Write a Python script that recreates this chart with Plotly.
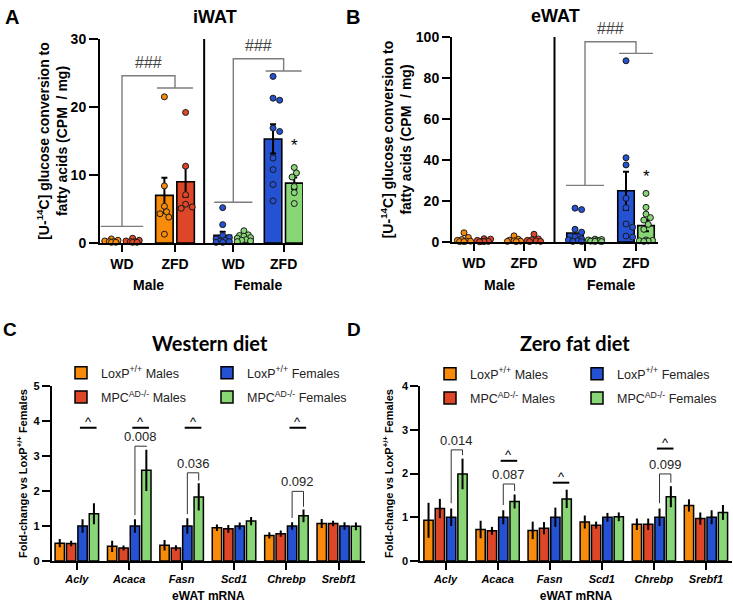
import plotly.graph_objects as go

W, H = 733, 603
OX, OY = 0, 0
SANS = "Liberation Sans, Arial, sans-serif"
HEAD = "Lato, Open Sans, sans-serif"

ORANGE = "#F98B0B"
RED = "#DD4626"
BLUE = "#2551D3"
GREEN = "#88D676"
INK = "black"
GRAY = "#7d7d7d"

# ---------------- Panels A & B data (CPM / mg) ----------------
diet_tick_labels = ["WD", "ZFD", "WD", "ZFD"]
sex_labels = ["Male", "Female"]
group_colors = [ORANGE, RED, ORANGE, RED, BLUE, GREEN, BLUE, GREEN]

iwat_means = [0.3, 0.3, 7.0, 9.0, 1.15, 0.8, 15.3, 8.8]
iwat_sems = [0.08, 0.09, 2.6, 2.2, 0.5, 0.17, 2.15, 0.85]
iwat_m_wd_loxp = [0.6, 0.4, 0.3, 0.2, 0.2, 0.1, 0.1]
iwat_m_wd_mpc = [0.7, 0.4, 0.3, 0.2, 0.2, 0.1, 0.1]
iwat_m_zfd_loxp = [21.5, 8.4, 5.4, 4.6, 4.3, 3.8, 1.3]
iwat_m_zfd_mpc = [19.2, 11.3, 7.1, 5.7, 5.3, 5.1]
iwat_f_wd_loxp = [5.2, 2.7, 1.1, 0.8, 0.6, 0.4, 0.3, 0.2, 0.1, 0.1]
iwat_f_wd_mpc = [1.8, 1.2, 1.1, 1.0, 0.8, 0.7, 0.5, 0.4, 0.3, 0.2]
iwat_f_zfd_loxp = [24.5, 21.3, 21.0, 16.9, 16.4, 12.5, 10.8, 8.6, 6.2]
iwat_f_zfd_mpc = [11.1, 10.3, 9.7, 8.3, 7.4, 5.8]

ewat_means = [1.0, 0.6, 0.9, 1.1, 4.4, 0.7, 25.0, 8.0]
ewat_sems = [0.5, 0.2, 0.4, 0.5, 1.9, 0.15, 9.3, 2.7]
ewat_m_wd_loxp = [4.5, 2.2, 1.2, 0.8, 0.5, 0.4, 0.2, 0.2]
ewat_m_wd_mpc = [1.6, 1.4, 0.8, 0.6, 0.4, 0.3, 0.2, 0.1]
ewat_m_zfd_loxp = [3.0, 1.3, 0.9, 0.6, 0.4, 0.3, 0.2]
ewat_m_zfd_mpc = [3.8, 1.5, 1.1, 0.8, 0.5, 0.3, 0.2]
ewat_f_wd_loxp = [16.5, 15.8, 6.2, 4.8, 2.5, 1.5, 1.0, 0.6, 0.3, 0.2]
ewat_f_wd_mpc = [1.4, 1.2, 1.0, 0.8, 0.6, 0.5, 0.4, 0.3, 0.2]
ewat_f_zfd_loxp = [88.4, 41.1, 37.6, 21.3, 16.7, 8.8, 7.2, 2.9, 2.4]
ewat_f_zfd_mpc = [23.7, 16.9, 13.6, 11.9, 10.7, 8.6, 6.2, 1.0, 0.8, 0.6, 0.5, 0.3]

iwat_points = [iwat_m_wd_loxp, iwat_m_wd_mpc, iwat_m_zfd_loxp, iwat_m_zfd_mpc,
               iwat_f_wd_loxp, iwat_f_wd_mpc, iwat_f_zfd_loxp, iwat_f_zfd_mpc]
ewat_points = [ewat_m_wd_loxp, ewat_m_wd_mpc, ewat_m_zfd_loxp, ewat_m_zfd_mpc,
               ewat_f_wd_loxp, ewat_f_wd_mpc, ewat_f_zfd_loxp, ewat_f_zfd_mpc]

# ---------------- Panels C & D data (fold change) ----------------
genes = ["Acly", "Acaca", "Fasn", "Scd1", "Chrebp", "Srebf1"]
series_names = ["LoxP<sup>+/+</sup> Males", "MPC<sup>AD-/-</sup> Males",
                "LoxP<sup>+/+</sup> Females", "MPC<sup>AD-/-</sup> Females"]
series_colors = [ORANGE, RED, BLUE, GREEN]

wd_loxp_m = [0.51, 0.42, 0.45, 0.95, 0.73, 1.07]
wd_loxp_m_sem = [0.12, 0.16, 0.15, 0.09, 0.09, 0.13]
wd_mpc_m = [0.50, 0.37, 0.37, 0.92, 0.78, 1.07]
wd_mpc_m_sem = [0.08, 0.07, 0.08, 0.11, 0.09, 0.08]
wd_loxp_f = [1.0, 1.0, 1.0, 1.0, 1.0, 1.0]
wd_loxp_f_sem = [0.19, 0.19, 0.22, 0.10, 0.11, 0.11]
wd_mpc_f = [1.35, 2.59, 1.83, 1.14, 1.29, 0.99]
wd_mpc_f_sem = [0.30, 0.59, 0.39, 0.12, 0.18, 0.11]

zfd_loxp_m = [0.93, 0.72, 0.70, 0.89, 0.84, 1.27]
zfd_loxp_m_sem = [0.40, 0.20, 0.20, 0.15, 0.13, 0.14]
zfd_mpc_m = [1.20, 0.69, 0.75, 0.82, 0.84, 0.97]
zfd_mpc_m_sem = [0.22, 0.09, 0.14, 0.08, 0.13, 0.14]
zfd_loxp_f = [1.0, 1.0, 1.0, 1.0, 1.0, 1.0]
zfd_loxp_f_sem = [0.20, 0.16, 0.22, 0.10, 0.20, 0.16]
zfd_mpc_f = [1.99, 1.36, 1.42, 1.01, 1.47, 1.11]
zfd_mpc_f_sem = [0.35, 0.16, 0.21, 0.10, 0.24, 0.17]

wd_series = [(wd_loxp_m, wd_loxp_m_sem), (wd_mpc_m, wd_mpc_m_sem),
             (wd_loxp_f, wd_loxp_f_sem), (wd_mpc_f, wd_mpc_f_sem)]
zfd_series = [(zfd_loxp_m, zfd_loxp_m_sem), (zfd_mpc_m, zfd_mpc_m_sem),
              (zfd_loxp_f, zfd_loxp_f_sem), (zfd_mpc_f, zfd_mpc_f_sem)]

# significance marks: (gene, height)
wd_carets = [("Acly", 3.81), ("Acaca", 3.81), ("Fasn", 3.81), ("Chrebp", 3.81)]
wd_pvalues = [("Acaca", "0.008", 3.28), ("Fasn", "0.036", 2.52), ("Chrebp", "0.092", 1.99)]
zfd_carets = [("Acaca", 2.29), ("Fasn", 1.79), ("Chrebp", 2.57)]
zfd_pvalues = [("Acly", "0.014", 2.54), ("Acaca", "0.087", 1.76), ("Chrebp", "0.099", 1.99)]

# ---------------- layout helpers ----------------
def px(x):
    return (x - OX) / W

def py(y):
    return 1 - (y - OY) / H

def xdom(a, b):
    return [px(a), px(b)]

def ydom(top, bottom):
    return [py(bottom), py(top)]

A_BOX = dict(x=(100, 303), y=(39, 243), xr=[-0.415, 3.415], yr=[0, 30])
B_BOX = dict(x=(452, 658), y=(37, 242), xr=[-0.44, 3.68], yr=[0, 100])
C_BOX = dict(x=(51.7, 365), y=(386, 561), xr=[-0.48, 5.5], yr=[0, 5])
D_BOX = dict(x=(420, 732), y=(386, 561), xr=[-0.49, 5.5], yr=[0, 4])

A_PAIRS = [0, 1, 2.1, 3.05]
B_PAIRS = [0, 1, 2.22, 3.24]
OFF = 0.2
BARW = 0.33


def scales(box):
    xs = (box["x"][1] - box["x"][0]) / (box["xr"][1] - box["xr"][0])
    ys = (box["y"][1] - box["y"][0]) / (box["yr"][1] - box["yr"][0])
    return xs, ys


def swarm(values, xc, xscale, yscale, dmin=5.6, maxoff=8.5, step=2.2):
    order = sorted(range(len(values)), key=lambda i: -values[i])
    placed = []
    res = [xc] * len(values)
    cands = [0.0]
    k = 1
    while k * step <= maxoff:
        cands += [k * step, -k * step]
        k += 1
    for i in order:
        yp = values[i] * yscale
        best, bestd, bestc = None, -1, 0.0
        for c in cands:
            d = min(((c - a) ** 2 + (yp - b) ** 2) ** 0.5 for a, b in placed) if placed else 1e9
            if d >= dmin:
                best = c
                break
            if d > bestd:
                bestd, bestc = d, c
        if best is None:
            best = bestc
        placed.append((best, yp))
        res[i] = xc + best / xscale
    return res


fig = go.Figure()


def add_ab(suffix, box, pairs, means, sems, point_lists):
    xsc, ysc = scales(box)
    xs = []
    for p in pairs:
        xs += [p - OFF, p + OFF]
    fig.add_trace(go.Bar(
        x=xs, y=means, width=BARW, xaxis="x" + suffix, yaxis="y" + suffix,
        marker=dict(color=group_colors, line=dict(color=INK, width=1.6)),
        error_y=dict(type="data", array=sems, color=INK, thickness=2, width=3),
        showlegend=False, hoverinfo="skip"))
    for i, pts in enumerate(point_lists):
        fig.add_trace(go.Scatter(
            x=swarm(pts, xs[i], xsc, ysc), y=pts, mode="markers",
            xaxis="x" + suffix, yaxis="y" + suffix, cliponaxis=False,
            marker=dict(size=6, color=group_colors[i], line=dict(color="#1a1a1a", width=1)),
            showlegend=False, hoverinfo="skip"))


add_ab("", A_BOX, A_PAIRS, iwat_means, iwat_sems, iwat_points)
add_ab("2", B_BOX, B_PAIRS, ewat_means, ewat_sems, ewat_points)

legend_ids = {"3": ["legend", "legend", "legend2", "legend2"],
              "4": ["legend3", "legend3", "legend4", "legend4"]}


def add_cd(suffix, series):
    for j, (vals, sem) in enumerate(series):
        fig.add_trace(go.Bar(
            x=list(range(len(genes))), y=vals, name=series_names[j],
            xaxis="x" + suffix, yaxis="y" + suffix,
            marker=dict(color=series_colors[j], line=dict(color=INK, width=1.5)),
            error_y=dict(type="data", array=sem, color=INK, thickness=2, width=0),
            legend=legend_ids[suffix][j], legendgroup=suffix + str(j),
            hoverinfo="skip"))


add_cd("3", wd_series)
add_cd("4", zfd_series)

# ---------------- axes ----------------
def yax(box, anchor, tickvals, size, ticklen, lw, title, tsize, standoff):
    return dict(domain=ydom(*box["y"]), anchor=anchor, range=box["yr"], tickvals=tickvals,
                showline=True, linecolor=INK, linewidth=lw, ticks="outside", ticklen=ticklen,
                tickwidth=lw, tickcolor=INK, showgrid=False, zeroline=False, automargin=False,
                tickfont=dict(family=SANS, size=size, color=INK, weight="bold"),
                title=dict(text=title, standoff=standoff,
                           font=dict(family=SANS, size=tsize, color=INK, weight="bold")))


def xax(box, anchor, tickvals, ticktext, size, ticklen, lw, title=None):
    d = dict(domain=xdom(*box["x"]), anchor=anchor, range=box["xr"], tickvals=tickvals,
             ticktext=ticktext, showline=True, linecolor=INK, linewidth=lw,
             ticks="outside", ticklen=ticklen, tickwidth=lw, tickcolor=INK, showgrid=False,
             zeroline=False, automargin=False,
             tickfont=dict(family=SANS, size=size, color=INK, weight="bold"))
    if title:
        d["title"] = dict(text=title, standoff=10,
                          font=dict(family=SANS, size=12, color=INK, weight="bold"))
    return d


ab_ytitle = "[U-<sup>14</sup>C] glucose conversion to<br>fatty acids (CPM&nbsp; / mg)"
cd_ytitle = "Fold-change vs LoxP<sup>+/+</sup> Females"
gene_ticks = [f"<i>{g}</i>" for g in genes]

layout = dict(
    width=W, height=H, margin=dict(l=0, r=0, t=0, b=0, autoexpand=False), autosize=False,
    paper_bgcolor="white", plot_bgcolor="white",
    barmode="group", bargap=0.13, bargroupgap=0.18,
    xaxis=xax(A_BOX, "y", A_PAIRS, diet_tick_labels, 14, 7, 2),
    yaxis=yax(A_BOX, "x", [0, 10, 20, 30], 14, 9, 2, ab_ytitle, 14, 0),
    xaxis2=xax(B_BOX, "y2", B_PAIRS, diet_tick_labels, 14, 7, 2),
    yaxis2=yax(B_BOX, "x2", [0, 20, 40, 60, 80, 100], 14, 8, 2, ab_ytitle, 14, 1),
    xaxis3=xax(C_BOX, "y3", list(range(len(genes))), gene_ticks, 11, 7, 1.6, "eWAT mRNA"),
    yaxis3=yax(C_BOX, "x3", [0, 1, 2, 3, 4, 5], 11, 8, 1.6, cd_ytitle, 11, 4),
    xaxis4=xax(D_BOX, "y4", list(range(len(genes))), gene_ticks, 11, 7, 1.6, "eWAT mRNA"),
    yaxis4=yax(D_BOX, "x4", [0, 1, 2, 3, 4], 11, 8, 1.6, cd_ytitle, 11, 6),
)

legend_style = dict(xanchor="left", yanchor="top", bgcolor="rgba(0,0,0,0)",
                    font=dict(family=SANS, size=12.5, color="#222"), tracegroupgap=5,
                    orientation="v")
layout["legend"] = dict(x=px(61), y=py(358), **legend_style)
layout["legend2"] = dict(x=px(207), y=py(358), **legend_style)
layout["legend3"] = dict(x=px(430), y=py(359), **legend_style)
layout["legend4"] = dict(x=px(577), y=py(359), **legend_style)

shapes = []
annotations = []


def ann(text, x, y, xref="paper", yref="paper", size=12, bold=False, color=INK,
        family=SANS, xanchor="center", yanchor="middle", **kw):
    annotations.append(dict(text=text, x=x, y=y, xref=xref, yref=yref, showarrow=False,
                            xanchor=xanchor, yanchor=yanchor,
                            font=dict(family=family, size=size, color=color,
                                      weight="bold" if bold else "normal"), **kw))


# panel letters and titles
ann("A", px(12), py(17), size=20, bold=True)
ann("B", px(353), py(17), size=20, bold=True)
ann("C", px(10), py(330), size=19, bold=True)
ann("D", px(354), py(330), size=19, bold=True)
ann("iWAT", px(215), py(17), size=18, bold=True)
ann("eWAT", px(555), py(16), size=18, bold=True)
ann("Western diet", px(210), py(343), size=20, bold=True, family=HEAD)
ann("Zero fat diet", px(575), py(343), size=20, bold=True, family=HEAD)

# A / B: dividers, sex labels, ### brackets, stars
for suffix, pairs in (("", A_PAIRS), ("2", B_PAIRS)):
    xr = "x" + suffix
    mid = (pairs[1] + pairs[2]) / 2
    shapes.append(dict(type="line", xref=xr, yref="y" + suffix + " domain", x0=mid, x1=mid,
                       y0=0, y1=1, line=dict(color=INK, width=2)))
    ann(sex_labels[0], (pairs[0] + pairs[1]) / 2, py(285), xref=xr, size=14, bold=True)
    ann(sex_labels[1], (pairs[2] + pairs[3]) / 2, py(285), xref=xr, size=14, bold=True)


def hash_bracket(suffix, pa, pb, h1, h2, h3, ha, hb):
    path = (f"M{pa - ha},{h1} L{pa + ha},{h1} M{pa},{h1} L{pa},{h2} L{pb},{h2} "
            f"L{pb},{h3} M{pb - hb},{h3} L{pb + hb},{h3}")
    shapes.append(dict(type="path", path=path, xref="x" + suffix, yref="y" + suffix,
                       line=dict(color=GRAY, width=1.4)))
    ann("###", (pa + pb) / 2, h2, xref="x" + suffix, yref="y" + suffix, size=16,
        color="#444", yanchor="bottom", yshift=3)


hash_bracket("", A_PAIRS[0], A_PAIRS[1], 2.45, 24.6, 22.8, 0.4, 0.34)
hash_bracket("", A_PAIRS[2], A_PAIRS[3], 6.0, 27.1, 25.3, 0.36, 0.34)
hash_bracket("2", B_PAIRS[2], B_PAIRS[3], 27.6, 97.7, 92.0, 0.38, 0.34)

ann("*", A_PAIRS[3] + OFF, iwat_means[7] + iwat_sems[7], xref="x", yref="y", size=17,
    yanchor="bottom", yshift=20)
ann("*", B_PAIRS[3] + OFF, ewat_means[7] + ewat_sems[7], xref="x2", yref="y2", size=17,
    yanchor="bottom", yshift=32)

# C / D significance marks
slot = (1 - layout["bargap"]) / 4
BLUE_OFF = -(1 - layout["bargap"]) / 2 + slot * 2.5
GREEN_OFF = -(1 - layout["bargap"]) / 2 + slot * 3.5


def caret(suffix, gene, h):
    g = genes.index(gene)
    x0, x1 = g + BLUE_OFF - 0.05, g + GREEN_OFF + 0.05
    shapes.append(dict(type="line", xref="x" + suffix, yref="y" + suffix, x0=x0, x1=x1,
                       y0=h, y1=h, line=dict(color=INK, width=2)))
    ann("^", (x0 + x1) / 2, h, xref="x" + suffix, yref="y" + suffix, size=13,
        yanchor="bottom", yshift=-3)


def pbracket(suffix, series, gene, label, h):
    g = genes.index(gene)
    xl, xr = g + BLUE_OFF, g + GREEN_OFF
    yl = series[2][0][g] + series[2][1][g] + 0.12
    yr = series[3][0][g] + series[3][1][g] + 0.08
    shapes.append(dict(type="path", xref="x" + suffix, yref="y" + suffix,
                       path=f"M{xl},{yl} L{xl},{h} L{xr},{h} L{xr},{yr}",
                       line=dict(color="#333", width=1)))
    ann(label, (xl + xr) / 2, h, xref="x" + suffix, yref="y" + suffix, size=13,
        yanchor="bottom", yshift=0, color="#222")


for gene, h in wd_carets:
    caret("3", gene, h)
for gene, lab, h in wd_pvalues:
    pbracket("3", wd_series, gene, lab, h)
for gene, h in zfd_carets:
    caret("4", gene, h)
for gene, lab, h in zfd_pvalues:
    pbracket("4", zfd_series, gene, lab, h)

layout["shapes"] = shapes
layout["annotations"] = annotations
fig.update_layout(**layout)
# remove the browser's default 8 px page margin so the figure fills the window exactly
fig.write_html("out.html", config={"displayModeBar": False},
               post_script="document.body.style.margin='0';document.body.style.overflow='hidden';")
